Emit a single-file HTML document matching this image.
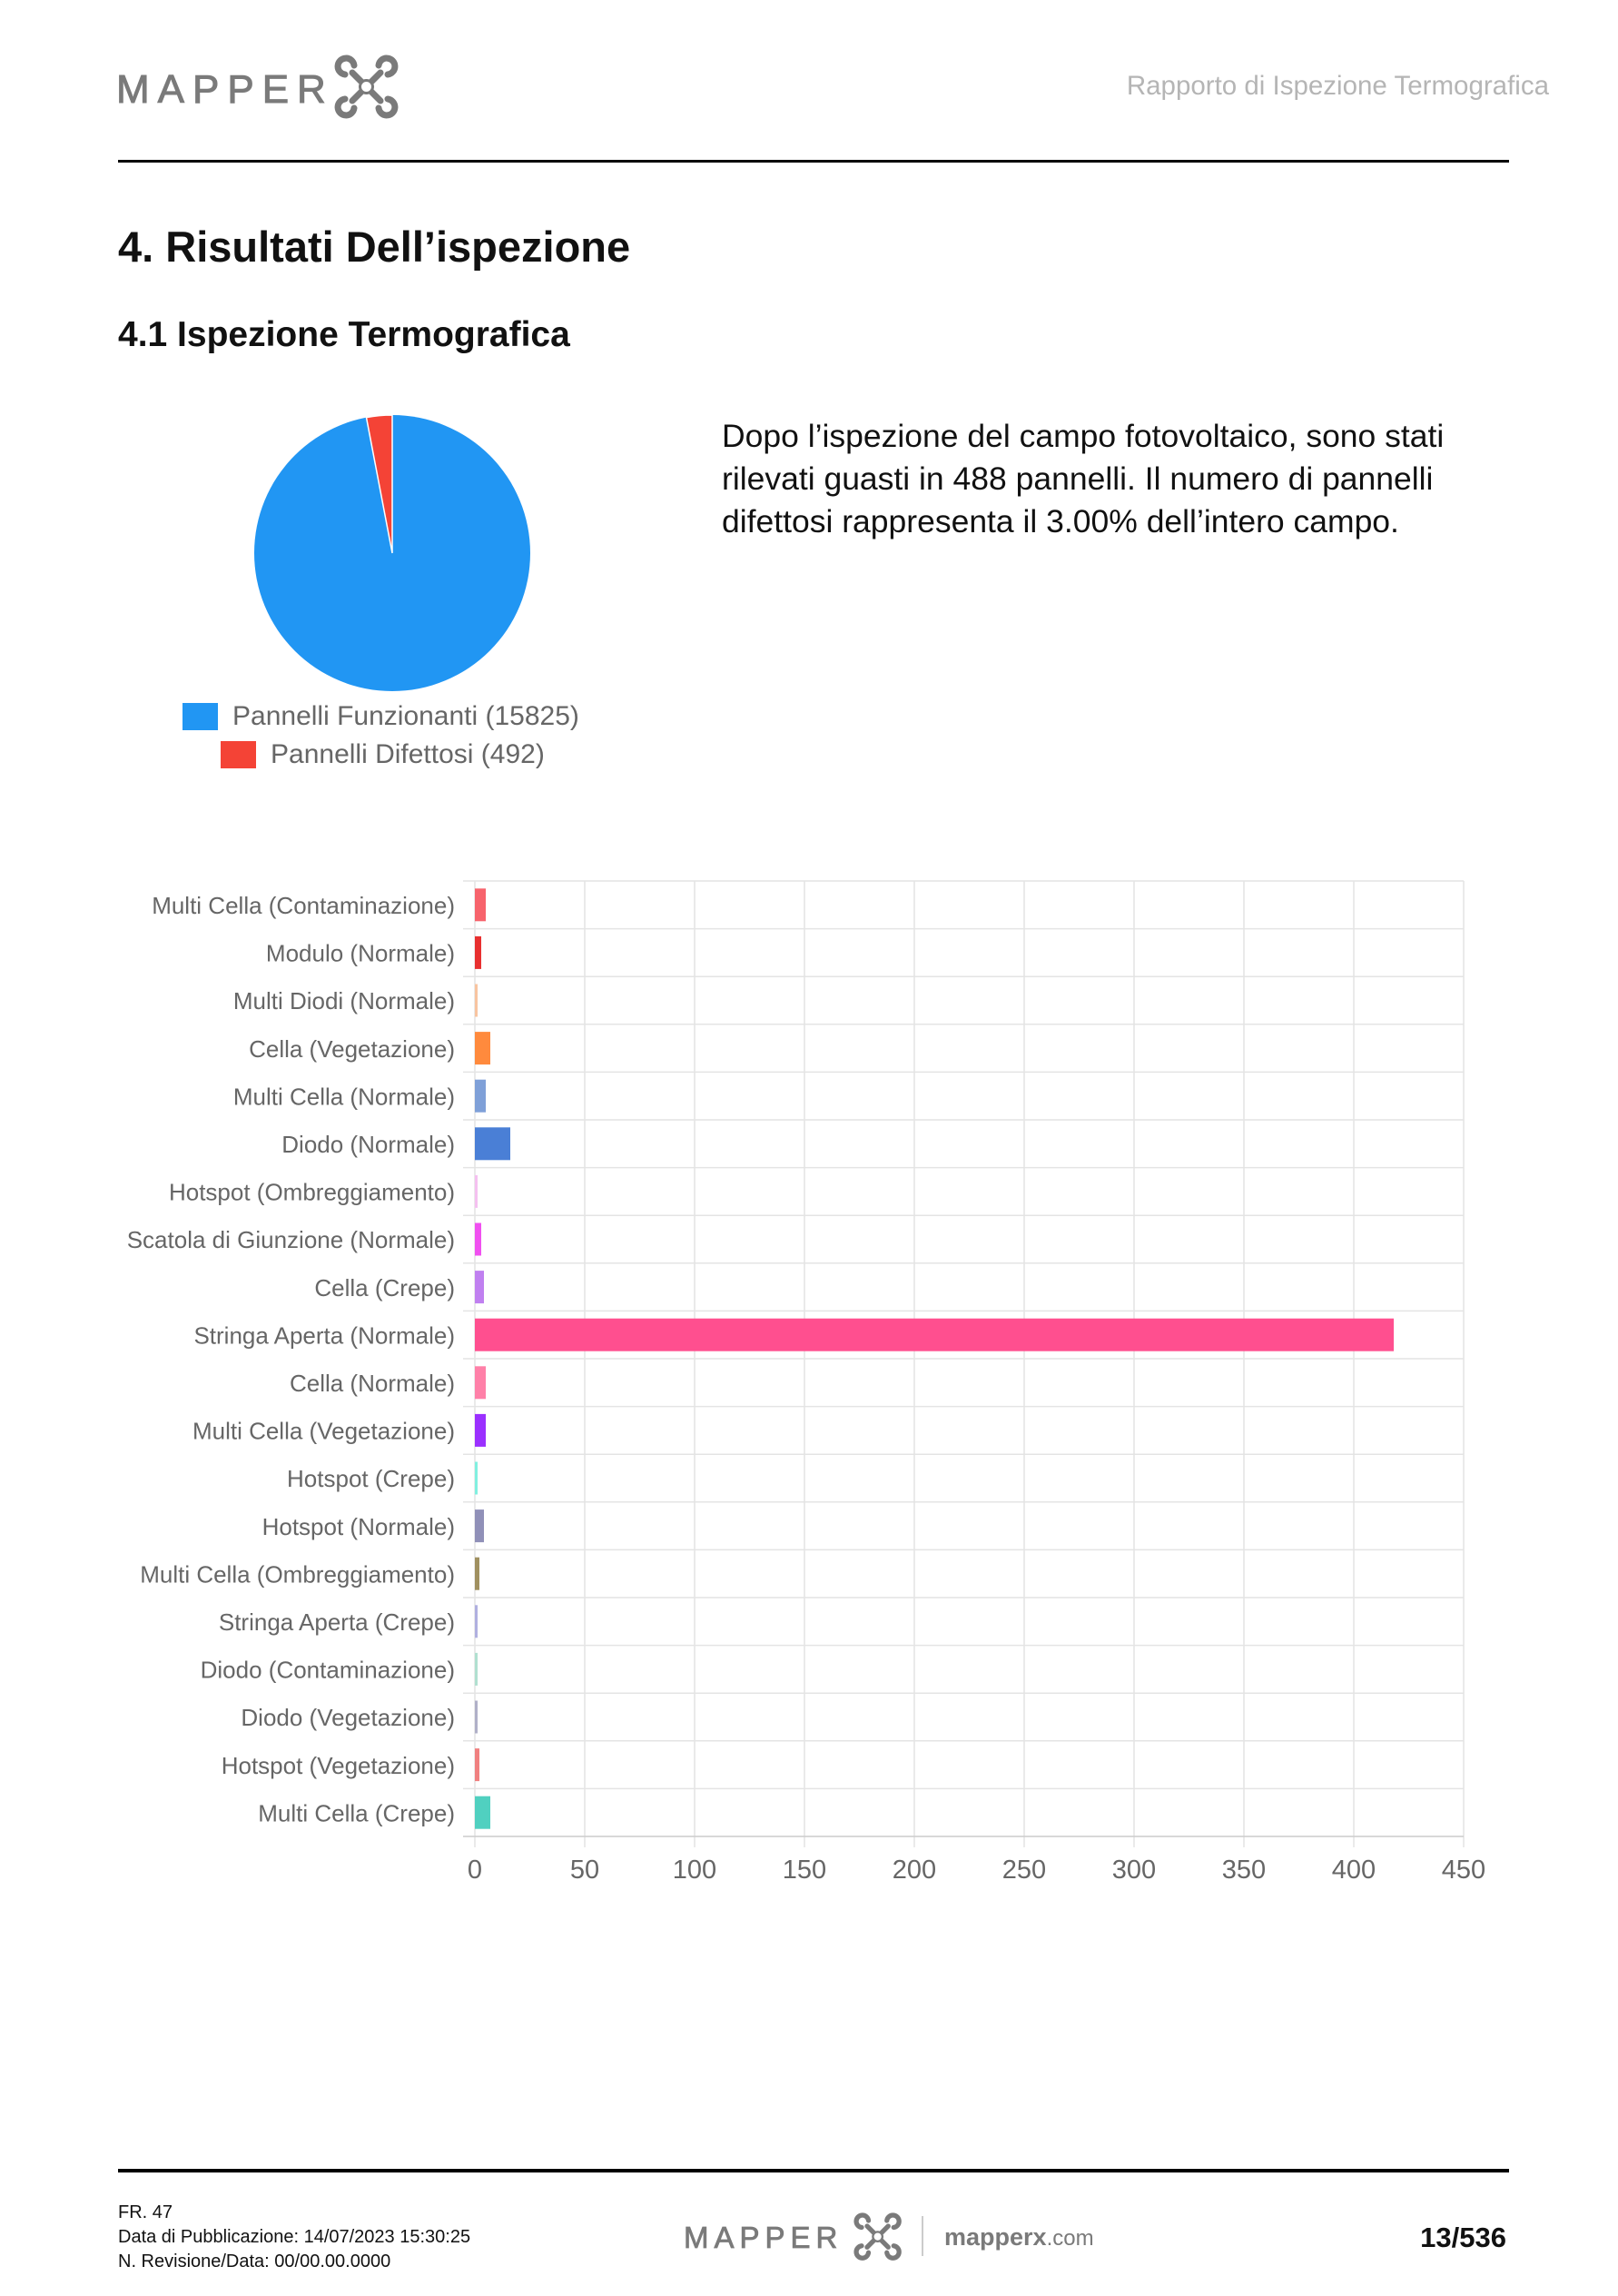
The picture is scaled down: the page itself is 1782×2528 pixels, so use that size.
<!DOCTYPE html>
<html><head><meta charset="utf-8"><style>
html,body{margin:0;padding:0;background:#fff;}
svg{display:block;}
text{font-family:"Liberation Sans",sans-serif;}
</style></head><body>
<svg width="1782" height="2528" viewBox="0 0 1782 2528" xmlns="http://www.w3.org/2000/svg">
<defs>
<g id="xicon">
  <g fill="none" stroke="#7a7a7a" stroke-width="7" stroke-linecap="round">
    <line x1="12" y1="12" x2="43" y2="43"/>
    <line x1="43" y1="12" x2="12" y2="43"/>
    <path d="M4 14 A9 9 0 1 1 14 4"/>
    <path d="M41 4 A9 9 0 1 1 51 14"/>
    <path d="M4 41 A9 9 0 1 0 14 51"/>
    <path d="M51 41 A9 9 0 1 1 41 51"/>
  </g>
  <circle cx="27.5" cy="27.5" r="7" fill="#fff" stroke="#7a7a7a" stroke-width="3"/>
</g>
</defs>
<!-- header -->
<text x="128" y="113" font-size="44" fill="#7a7a7a" letter-spacing="9" stroke="#7a7a7a" stroke-width="1">MAPPER</text>
<use href="#xicon" x="376" y="68"/>
<text x="1706" y="104" font-size="29.5" fill="#b5b5b5" text-anchor="end">Rapporto di Ispezione Termografica</text>
<rect x="130" y="176" width="1532" height="3" fill="#000"/>
<text x="130" y="288" font-size="47" font-weight="bold" fill="#111">4. Risultati Dell’ispezione</text>
<text x="130" y="381" font-size="39" font-weight="bold" fill="#111">4.1 Ispezione Termografica</text>
<!-- pie -->
<circle cx="432" cy="609" r="152" fill="#2196f3"/>
<path d="M432 609 L432 457 A152 152 0 0 0 403.5 459.7 Z" fill="#f44336" stroke="#fff" stroke-width="1.5"/>
<rect x="201" y="774" width="39" height="30" fill="#2196f3"/>
<text x="256" y="798" font-size="30" fill="#666">Pannelli Funzionanti (15825)</text>
<rect x="243" y="816" width="39" height="30" fill="#f44336"/>
<text x="298" y="840" font-size="30" fill="#666">Pannelli Difettosi (492)</text>
<!-- paragraph -->
<g font-size="35.5" fill="#111">
<text x="795" y="492">Dopo l’ispezione del campo fotovoltaico, sono stati</text>
<text x="795" y="539">rilevati guasti in 488 pannelli. Il numero di pannelli</text>
<text x="795" y="586">difettosi rappresenta il 3.00% dell’intero campo.</text>
</g>
<!-- bar chart grid -->
<g stroke="#e4e4e4" stroke-width="1.5">
<line x1="523" y1="970" x2="523" y2="2034"/>
<line x1="644" y1="970" x2="644" y2="2034"/>
<line x1="765" y1="970" x2="765" y2="2034"/>
<line x1="886" y1="970" x2="886" y2="2034"/>
<line x1="1007" y1="970" x2="1007" y2="2034"/>
<line x1="1128" y1="970" x2="1128" y2="2034"/>
<line x1="1249" y1="970" x2="1249" y2="2034"/>
<line x1="1370" y1="970" x2="1370" y2="2034"/>
<line x1="1491" y1="970" x2="1491" y2="2034"/>
<line x1="1612" y1="970" x2="1612" y2="2034"/>
<line x1="510" y1="970" x2="1612" y2="970"/>
<line x1="510" y1="1022.6" x2="1612" y2="1022.6"/>
<line x1="510" y1="1075.2" x2="1612" y2="1075.2"/>
<line x1="510" y1="1127.8" x2="1612" y2="1127.8"/>
<line x1="510" y1="1180.4" x2="1612" y2="1180.4"/>
<line x1="510" y1="1233" x2="1612" y2="1233"/>
<line x1="510" y1="1285.6" x2="1612" y2="1285.6"/>
<line x1="510" y1="1338.2" x2="1612" y2="1338.2"/>
<line x1="510" y1="1390.8" x2="1612" y2="1390.8"/>
<line x1="510" y1="1443.4" x2="1612" y2="1443.4"/>
<line x1="510" y1="1496" x2="1612" y2="1496"/>
<line x1="510" y1="1548.6" x2="1612" y2="1548.6"/>
<line x1="510" y1="1601.2" x2="1612" y2="1601.2"/>
<line x1="510" y1="1653.8" x2="1612" y2="1653.8"/>
<line x1="510" y1="1706.4" x2="1612" y2="1706.4"/>
<line x1="510" y1="1759" x2="1612" y2="1759"/>
<line x1="510" y1="1811.6" x2="1612" y2="1811.6"/>
<line x1="510" y1="1864.2" x2="1612" y2="1864.2"/>
<line x1="510" y1="1916.8" x2="1612" y2="1916.8"/>
<line x1="510" y1="1969.4" x2="1612" y2="1969.4"/>
<line x1="510" y1="2022" x2="1612" y2="2022" stroke="#ccc"/>
</g>
<!-- bars -->
<g>
<rect x="523" y="978.3" width="12" height="36" fill="#f7636c"/>
<rect x="523" y="1030.9" width="7" height="36" fill="#e83030"/>
<rect x="523" y="1083.5" width="3" height="36" fill="#f8c4a0"/>
<rect x="523" y="1136.1" width="17" height="36" fill="#ff8a3d"/>
<rect x="523" y="1188.7" width="12" height="36" fill="#7fa0d8"/>
<rect x="523" y="1241.3" width="39" height="36" fill="#4a7fd6"/>
<rect x="523" y="1293.9" width="3" height="36" fill="#f5c0f0"/>
<rect x="523" y="1346.5" width="7" height="36" fill="#f050f0"/>
<rect x="523" y="1399.1" width="10" height="36" fill="#c080f0"/>
<rect x="523" y="1451.7" width="1012" height="36" fill="#ff4f8f"/>
<rect x="523" y="1504.3" width="12" height="36" fill="#ff80a8"/>
<rect x="523" y="1556.9" width="12" height="36" fill="#9b30ff"/>
<rect x="523" y="1609.5" width="3" height="36" fill="#80f0e0"/>
<rect x="523" y="1662.1" width="10" height="36" fill="#9090b8"/>
<rect x="523" y="1714.7" width="5" height="36" fill="#a09060"/>
<rect x="523" y="1767.3" width="3" height="36" fill="#b0b0e0"/>
<rect x="523" y="1819.9" width="3" height="36" fill="#b0e0d0"/>
<rect x="523" y="1872.5" width="3" height="36" fill="#b0b0c8"/>
<rect x="523" y="1925.1" width="5" height="36" fill="#f08080"/>
<rect x="523" y="1977.7" width="17" height="36" fill="#50d0c0"/>
</g>
<!-- category labels -->
<g font-size="26" fill="#666" text-anchor="end">
<text x="501" y="1006">Multi Cella (Contaminazione)</text>
<text x="501" y="1058.6">Modulo (Normale)</text>
<text x="501" y="1111.2">Multi Diodi (Normale)</text>
<text x="501" y="1163.8">Cella (Vegetazione)</text>
<text x="501" y="1216.4">Multi Cella (Normale)</text>
<text x="501" y="1269">Diodo (Normale)</text>
<text x="501" y="1321.6">Hotspot (Ombreggiamento)</text>
<text x="501" y="1374.2">Scatola di Giunzione (Normale)</text>
<text x="501" y="1426.8">Cella (Crepe)</text>
<text x="501" y="1479.4">Stringa Aperta (Normale)</text>
<text x="501" y="1532">Cella (Normale)</text>
<text x="501" y="1584.6">Multi Cella (Vegetazione)</text>
<text x="501" y="1637.2">Hotspot (Crepe)</text>
<text x="501" y="1689.8">Hotspot (Normale)</text>
<text x="501" y="1742.4">Multi Cella (Ombreggiamento)</text>
<text x="501" y="1795">Stringa Aperta (Crepe)</text>
<text x="501" y="1847.6">Diodo (Contaminazione)</text>
<text x="501" y="1900.2">Diodo (Vegetazione)</text>
<text x="501" y="1952.8">Hotspot (Vegetazione)</text>
<text x="501" y="2005.4">Multi Cella (Crepe)</text>
</g>
<!-- x ticks -->
<g font-size="29" fill="#666" text-anchor="middle">
<text x="523" y="2068">0</text>
<text x="644" y="2068">50</text>
<text x="765" y="2068">100</text>
<text x="886" y="2068">150</text>
<text x="1007" y="2068">200</text>
<text x="1128" y="2068">250</text>
<text x="1249" y="2068">300</text>
<text x="1370" y="2068">350</text>
<text x="1491" y="2068">400</text>
<text x="1612" y="2068">450</text>
</g>
<!-- footer -->
<rect x="130" y="2388" width="1532" height="4" fill="#000"/>
<g font-size="20" fill="#111">
<text x="130" y="2442">FR. 47</text>
<text x="130" y="2469">Data di Pubblicazione: 14/07/2023 15:30:25</text>
<text x="130" y="2496">N. Revisione/Data: 00/00.00.0000</text>
</g>
<text x="753" y="2475" font-size="33" fill="#7a7a7a" letter-spacing="6" stroke="#7a7a7a" stroke-width="0.8">MAPPER</text>
<use href="#xicon" transform="translate(946,2442) scale(0.75)"/>
<rect x="1015" y="2440" width="2" height="44" fill="#ccc"/>
<text x="1040" y="2472" font-size="27" font-weight="bold" fill="#7a7a7a">mapperx<tspan font-weight="normal" font-size="24">.com</tspan></text>
<text x="1659" y="2474" font-size="31" font-weight="bold" fill="#111" text-anchor="end">13/536</text>
</svg>
</body></html>
